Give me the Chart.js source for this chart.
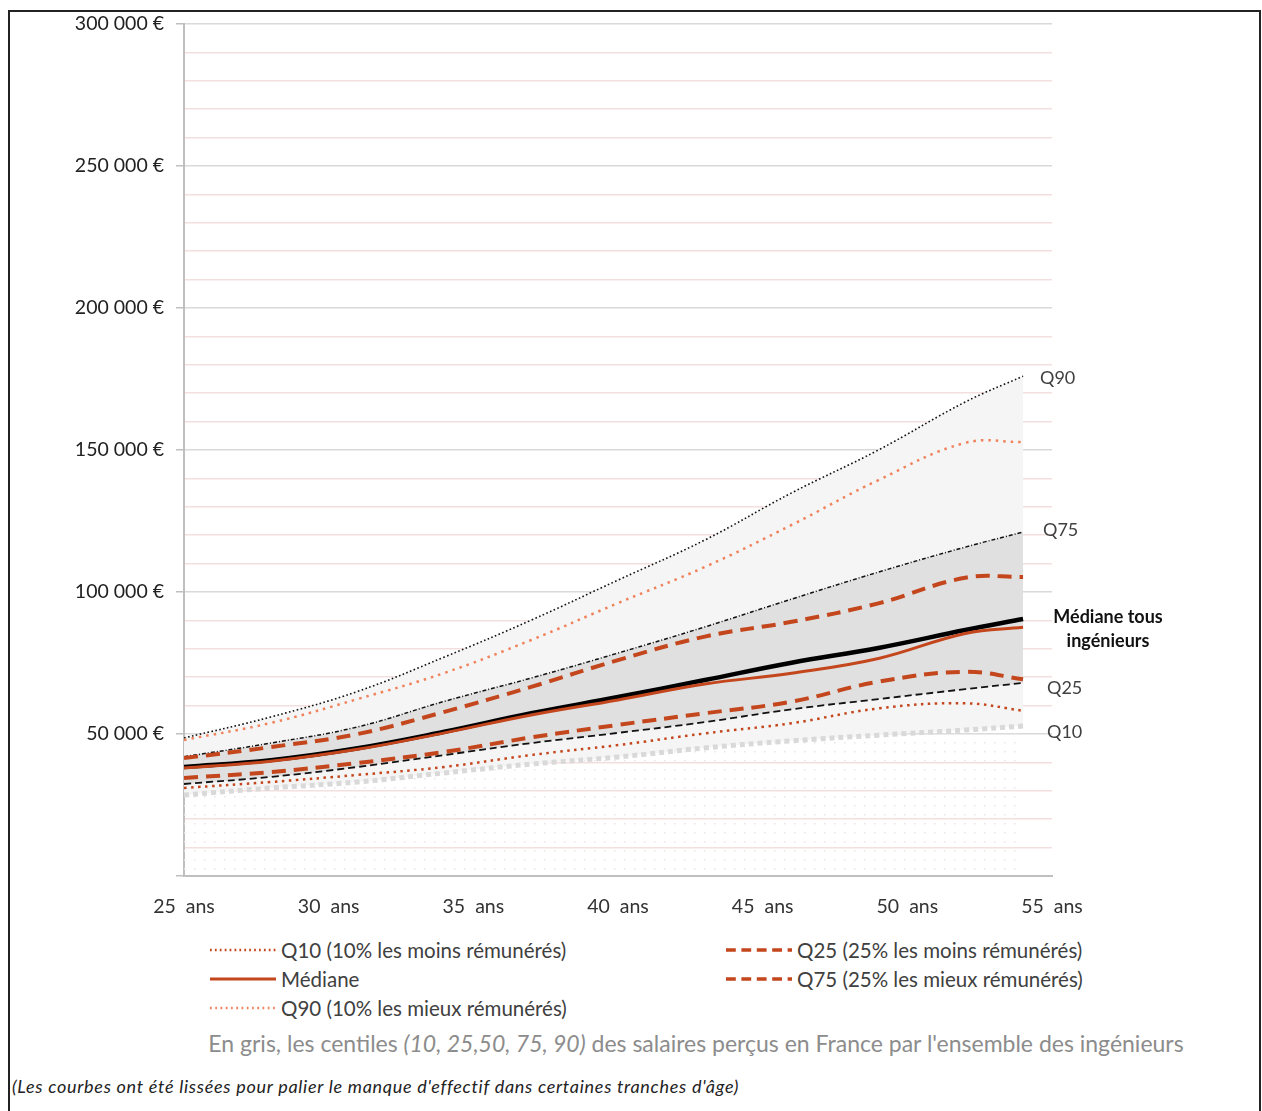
<!DOCTYPE html>
<html lang="fr">
<head>
<meta charset="UTF-8">
<title>Salaires des ingénieurs selon l'âge</title>
<script src="https://cdn.jsdelivr.net/npm/chart.js"></script>
<style>
  body { margin: 0; background: #fff; font-family: Lato, sans-serif; }
  #cadre { position: absolute; left: 8px; top: 10px; width: 1249px; height: 1110px; border: 2px solid #222; border-bottom: none; }
  #zone { position: absolute; left: 0; top: 0; width: 1262px; height: 930px; }
  #legende { position: absolute; left: 210px; top: 935px; display: grid; grid-template-columns: 516px 440px; }
  .item { height: 29px; display: flex; align-items: center; font-size: 20.5px; color: #404040; white-space: nowrap; }
  .item svg { margin-right: 5px; }
  #note { position: absolute; left: 100px; width: 1192px; top: 1029px; text-align: center; font-size: 23px; color: #8c8c8c; white-space: nowrap; }
  #source { position: absolute; left: 12px; top: 1075px; font-size: 18px; letter-spacing: 0.72px; font-style: italic; color: #222; white-space: nowrap; }
</style>
</head>
<body>
<div id="cadre"></div>
<div id="zone"><canvas id="graphe"></canvas></div>
<div id="legende"></div>
<div id="note">En gris, les centiles <i>(10, 25,50, 75, 90)</i> des salaires perçus en France par l'ensemble des ingénieurs</div>
<div id="source">(Les courbes ont été lissées pour palier le manque d'effectif dans certaines tranches d'âge)</div>
<script>
  // âges (abscisses)
  const ages = [25, 28, 31, 34, 37, 40, 43, 46, 49, 52, 54]

  // ingénieurs de l'enquête (en orange)
  const q10 = [31000, 33100, 35600, 38400, 42600, 46100, 50200, 53800, 59000, 60800, 58200]
  const q25 = [34500, 36600, 39800, 43700, 48800, 53200, 57300, 61400, 68400, 71900, 69300]
  const mediane = [38000, 40400, 44600, 50400, 56700, 62000, 67600, 71400, 76600, 85400, 87600]
  const q75 = [41500, 45400, 50000, 57800, 66600, 76000, 84300, 89500, 96000, 105000, 105300]
  const q90 = [47900, 53900, 62300, 71500, 83100, 96100, 108800, 123600, 139400, 152500, 152800]

  // ensemble des ingénieurs en France (en gris)
  const gQ90 = [48600, 56000, 65000, 77100, 90100, 104200, 118300, 134900, 150000, 166900, 176000]
  const gQ75 = [42000, 46800, 52500, 61500, 69700, 78500, 87700, 97500, 107000, 115800, 121100]
  const gMed = [38400, 40800, 45000, 50800, 57300, 63000, 69000, 75100, 80300, 86600, 90500]
  const gQ25 = [32400, 34900, 38400, 42600, 46800, 50400, 54200, 58700, 62300, 65800, 68000]
  const gQ10 = [28500, 31000, 33100, 36300, 39400, 41900, 45100, 47600, 49600, 51400, 52800]

  const rouge = '#c4461c'
  const saumon = '#f0825c'

  const motif = (() => {
    const c = document.createElement('canvas')
    c.width = 10; c.height = 9
    const g = c.getContext('2d')
    g.fillStyle = '#ece3e3'
    g.fillRect(4, 4, 1.5, 1.5)
    return g.createPattern(c, 'repeat')
  })()

  const serie = (label, vals, style) => Object.assign({
    label,
    data: ages.map((a, i) => ({ x: a, y: vals[i] })),
    pointRadius: 0,
    fill: false,
    tension: 0.4
  }, style)

  const datasets = [
    serie('Q10 (10% les moins rémunérés)', q10, { borderColor: rouge, borderWidth: 2.5, borderDash: [2.5, 4.5] }),
    serie('Q25 (25% les moins rémunérés)', q25, { borderColor: rouge, borderWidth: 4, borderDash: [14, 8] }),
    serie('Médiane', mediane, { borderColor: rouge, borderWidth: 3 }),
    serie('Q75 (25% les mieux rémunérés)', q75, { borderColor: rouge, borderWidth: 4, borderDash: [14, 8] }),
    serie('Q90 (10% les mieux rémunérés)', q90, { borderColor: saumon, borderWidth: 2.5, borderDash: [2.5, 5] }),
    serie('gMed', gMed, { borderColor: '#000', borderWidth: 4.5 }),
    serie('gQ75', gQ75, { borderColor: '#111', borderWidth: 1.5, borderDash: [4, 2, 1, 2], fill: 8, backgroundColor: '#e0e0e0' }),
    serie('gQ90', gQ90, { borderColor: '#111', borderWidth: 1.6, borderDash: [1.6, 2.4], fill: 9, backgroundColor: '#f5f5f5' }),
    serie('gQ25', gQ25, { borderColor: '#111', borderWidth: 1.8, borderDash: [7, 4] }),
    serie('gQ10', gQ10, { borderColor: '#d9d9d9', borderWidth: 5, borderDash: [5, 4], fill: 'origin', backgroundColor: motif })
  ]

  const etiquettes = {
    id: 'etiquettes',
    afterDatasetsDraw(chart) {
      const { ctx, scales: { y } } = chart
      const fin = arr => y.getPixelForValue(arr[arr.length - 1])
      ctx.save()
      ctx.textBaseline = 'middle'
      ctx.font = '18px Lato'
      ctx.fillStyle = '#404040'
      ctx.fillText('Q90', 1040, fin(gQ90) + 2)
      ctx.fillText('Q75', 1043, fin(gQ75) - 2)
      ctx.fillText('Q25', 1047, fin(gQ25) + 5)
      ctx.fillText('Q10', 1047, fin(gQ10) + 6)
      ctx.font = 'bold 18px Lato'
      ctx.fillStyle = '#111'
      ctx.textAlign = 'center'
      ctx.fillText('Médiane tous', 1108, fin(gMed) - 2)
      ctx.fillText('ingénieurs', 1108, fin(gMed) + 22)
      ctx.restore()
    }
  }

  const euros = v => String(v).replace(/\B(?=(\d{3})+(?!\d))/g, ' ') + ' €'

  const graphe = new Chart(document.getElementById('graphe'), {
    type: 'line',
    data: { datasets },
    plugins: [etiquettes],
    options: {
      responsive: true,
      maintainAspectRatio: false,
      animation: false,
      layout: { padding: { top: 24, right: 210, left: 0, bottom: 0 } },
      plugins: {
        legend: { display: false },
        tooltip: { enabled: false },
        filler: { drawTime: 'beforeDatasetsDraw' }
      },
      scales: {
        x: {
          type: 'linear',
          min: 25,
          max: 55,
          grid: { display: false },
          border: { display: true, color: '#bfbfbf', width: 2 },
          ticks: {
            stepSize: 5,
            padding: 11,
            color: '#333',
            font: { family: 'Lato', size: 19.5 },
            callback: v => v + '  ans'
          },
          afterFit: s => { s.height = 54 }
        },
        y: {
          min: 0,
          max: 300000,
          grid: {
            color: c => c.tick.value % 50000 === 0 ? '#d9d9d9' : '#f3dfdd',
            tickColor: c => c.tick.value % 50000 === 0 ? '#bfbfbf' : 'rgba(0,0,0,0)',
            lineWidth: 1.5,
            tickLength: 8
          },
          border: { color: '#bfbfbf', width: 2 },
          ticks: {
            stepSize: 10000,
            autoSkip: false,
            padding: 12,
            color: '#222',
            font: { family: 'Lato', size: 19.5 },
            callback: v => (v % 50000 === 0 && v > 0) ? euros(v) : ''
          },
          afterFit: s => { s.width = 184 }
        }
      }
    }
  })

  // légende HTML (deux colonnes) à partir des séries orange
  const legende = document.getElementById('legende')
  graphe.data.datasets.slice(0, 5).forEach(ds => {
    const item = document.createElement('div')
    item.className = 'item'
    const dash = ds.borderDash ? ds.borderDash.map(d => d * 0.7).join(' ') : ''
    item.innerHTML = '<svg width="66" height="10"><line x1="0" y1="5" x2="66" y2="5" stroke="' + ds.borderColor +
      '" stroke-width="' + Math.min(ds.borderWidth, 3.5) + '" stroke-dasharray="' + dash + '"/></svg><span>' + ds.label + '</span>'
    legende.appendChild(item)
  })
</script>
</body>
</html>
